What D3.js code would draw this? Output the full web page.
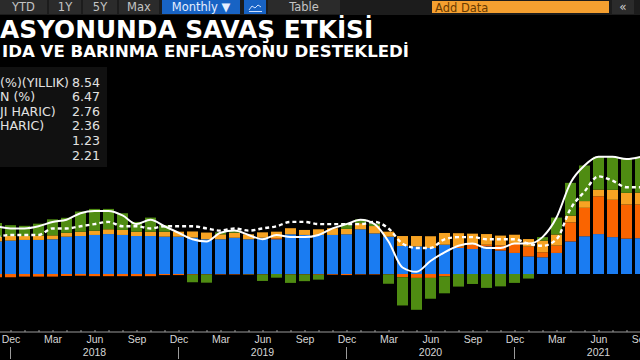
<!DOCTYPE html>
<html>
<head>
<meta charset="utf-8">
<script src="https://cdn.jsdelivr.net/npm/d3@7"></script>
<style>
html, body { margin: 0; padding: 0; background: #000; overflow: hidden; }
svg { display: block; }
</style>
</head>
<body>
<svg id="chart" width="640" height="360"></svg>
<script>
// aylar: Kas 2017 - Eyl 2021
const months = d3.utcMonth.range(new Date(Date.UTC(2017, 10, 1)), new Date(Date.UTC(2021, 9, 1)));

// katkılar (yüzde puan)
const services = [1.50,1.54,1.57,1.57,1.60,1.72,1.75,1.80,1.84,1.80,1.75,1.75,1.72,1.72,
  1.68,1.60,1.60,1.67,1.60,1.67,1.60,1.83,1.80,1.80,1.80,1.83,
  2.06,1.87,1.72,1.29,1.27,1.20,1.35,1.20,1.15,1.27,1.08,0.97,
  0.81,0.77,0.97,1.50,1.74,1.84,1.70,1.63,1.65];
const goods = [-0.15,-0.15,-0.12,-0.12,-0.12,-0.09,-0.08,-0.10,-0.10,-0.10,-0.10,-0.10,-0.05,-0.05,
  -0.03,-0.02,-0.02,-0.02,-0.02,-0.02,0.05,-0.02,-0.02,-0.03,-0.03,-0.05,
  -0.02,-0.02,-0.02,-0.15,-0.18,-0.18,-0.11,0.06,0.20,0.08,0.23,0.46,
  0.45,0.23,0.34,0.88,1.31,1.74,1.72,1.57,1.55];
const food = [0.22,0.22,0.18,0.20,0.18,0.18,0.20,0.20,0.22,0.23,0.20,0.20,0.23,0.23,
  0.28,0.31,0.23,0.23,0.23,0.25,0.30,0.28,0.23,0.26,0.31,0.25,
  0.28,0.34,0.23,0.46,0.48,0.54,0.54,0.62,0.51,0.49,0.46,0.38,
  0.35,0.54,0.51,0.31,0.31,0.31,0.46,0.54,0.55];
const energy = [0.63,0.49,0.47,0.55,0.74,0.69,0.93,1.00,0.94,0.77,0.45,0.65,0.30,0.00,
  -0.35,-0.38,0.09,0.12,-0.01,-0.30,-0.17,-0.39,-0.31,-0.23,0.00,0.27,
  0.18,0.11,-0.43,-1.30,-1.47,-0.96,-0.78,-0.58,-0.46,-0.64,-0.57,-0.41,
  -0.21,0.16,0.78,1.51,1.64,1.51,1.52,1.56,1.65];

// çizgiler: manşet ve çekirdek (yıllık %)
const headline = [2.2,2.1,2.1,2.2,2.4,2.5,2.8,2.9,2.9,2.7,2.3,2.5,2.2,1.9,
  1.6,1.5,1.9,2.0,1.8,1.6,1.8,1.7,1.7,1.8,2.1,2.3,
  2.5,2.3,1.5,0.3,0.1,0.6,1.0,1.3,1.4,1.2,1.2,1.4,
  1.4,1.7,2.6,4.2,5.0,5.4,5.4,5.3,5.4];
const core = [1.7,1.8,1.8,1.8,2.1,2.1,2.2,2.3,2.4,2.2,2.2,2.1,2.2,2.2,
  2.2,2.1,2.0,2.1,2.0,2.1,2.2,2.4,2.4,2.3,2.3,2.3,
  2.3,2.4,2.1,1.4,1.2,1.2,1.6,1.7,1.7,1.6,1.6,1.6,
  1.4,1.3,1.6,3.0,3.8,4.5,4.3,4.0,4.0];

const seriesKeys = ["services", "goods", "food", "energy"];
const seriesColors = ["#1a7cf2", "#fa6400", "#f7a323", "#4f8c12"];

const tickMonths = ["Dec", "Mar", "Jun", "Sep"];
const yearLabels = ["2018", "2019", "2020", "2021"];

const legendLabels = ["(%)(YILLIK)", "N (%)", "JI HARIC)", "HARIC)", "", ""];
const legendValues = ["8.54", "6.47", "2.76", "2.36", "1.23", "2.21"];

const toolbarButtons = [
  { label: "YTD", x: 0, w: 47 },
  { label: "1Y", x: 49, w: 32 },
  { label: "5Y", x: 83, w: 34 },
  { label: "Max", x: 119, w: 40 },
  { label: "Monthly \u25BC", x: 162, w: 78, active: true },
  { label: "", x: 244, w: 22, active: true, icon: true },
  { label: "Table", x: 268, w: 72 }
];

const svg = d3.select("#chart");
svg.append("rect").attr("width", 640).attr("height", 360).attr("fill", "#000");

// --- üst araç çubuğu
svg.append("rect").attr("x", 0).attr("y", 0).attr("width", 640).attr("height", 15).attr("fill", "#1c1c1c");
const btn = svg.selectAll("g.btn").data(toolbarButtons).enter().append("g").attr("class", "btn");
btn.append("rect")
  .attr("x", d => d.x).attr("y", 0).attr("width", d => d.w).attr("height", 14)
  .attr("fill", d => d.active ? "#1863c4" : "#2b2b2b");
btn.append("text")
  .attr("x", d => d.x + d.w / 2).attr("y", 11)
  .attr("text-anchor", "middle")
  .attr("font-family", "DejaVu Sans").attr("font-size", 11.5)
  .attr("fill", d => d.active ? "#e6eeff" : "#c4c4c4")
  .text(d => d.label);
svg.append("polyline")
  .attr("points", "249,10 252,6 255,8 258,5 261,7")
  .attr("fill", "none").attr("stroke", "#cfe0ff").attr("stroke-width", 1);
svg.append("line").attr("x1", 249).attr("x2", 262).attr("y1", 11.5).attr("y2", 11.5)
  .attr("stroke", "#cfe0ff").attr("stroke-width", 1);

svg.append("rect").attr("x", 432).attr("y", 1).attr("width", 177).attr("height", 12).attr("fill", "#f5a030");
svg.append("text").attr("x", 435).attr("y", 11.5)
  .attr("font-family", "DejaVu Sans").attr("font-size", 11.5).attr("fill", "#6a3b00")
  .text("Add Data");
svg.append("rect").attr("x", 612).attr("y", 0).attr("width", 22).attr("height", 14).attr("fill", "#2b2b2b");
svg.append("text").attr("x", 623).attr("y", 11).attr("text-anchor", "middle")
  .attr("font-family", "DejaVu Sans").attr("font-size", 12).attr("fill", "#d0d0d0")
  .text("\u00AB");

// --- başlık
svg.append("text").attr("x", 0).attr("y", 37.5)
  .attr("font-family", "DejaVu Sans").attr("font-weight", "bold").attr("font-size", 24.8)
  .attr("fill", "#fff").text("ASYONUNDA SAVAŞ ETKİSİ");
svg.append("text").attr("x", 2).attr("y", 56.5)
  .attr("font-family", "DejaVu Sans").attr("font-weight", "bold").attr("font-size", 16.6)
  .attr("fill", "#fff").text("IDA VE BARINMA ENFLASYONU DESTEKLEDİ");

// --- ölçekler
const x = d3.scalePoint().domain(months.map(d => +d)).range([-3.5, 640.5]);
const y = d3.scaleLinear().domain([0, 5]).range([274, 165.5]);
const barW = 11;

const table = months.map((m, i) => ({
  month: +m, services: services[i], goods: goods[i], food: food[i], energy: energy[i]
}));
const stacked = d3.stack().keys(seriesKeys).offset(d3.stackOffsetDiverging)(table);

svg.append("g").selectAll("g").data(stacked).enter().append("g")
  .attr("fill", (d, i) => seriesColors[i])
  .selectAll("rect").data(d => d).enter().append("rect")
  .attr("x", d => x(d.data.month) - barW / 2)
  .attr("width", barW)
  .attr("y", d => y(Math.max(d[0], d[1])))
  .attr("height", d => Math.abs(y(d[0]) - y(d[1])));

// --- çizgiler
const lineGen = vals => d3.line()
  .x((d, i) => x(+months[i]))
  .y(d => y(d))
  .curve(d3.curveMonotoneX)(vals);

svg.append("path").attr("d", lineGen(core))
  .attr("fill", "none").attr("stroke", "#fff").attr("stroke-width", 2.4)
  .attr("stroke-dasharray", "4,3");
svg.append("path").attr("d", lineGen(headline))
  .attr("fill", "none").attr("stroke", "#fff").attr("stroke-width", 2);

// --- lejant
svg.append("rect").attr("x", 0).attr("y", 67).attr("width", 107).attr("height", 100).attr("fill", "#111");
const leg = svg.selectAll("g.leg").data(legendValues).enter().append("g").attr("class", "leg")
  .attr("transform", (d, i) => `translate(0,${86.5 + i * 14.6})`);
leg.append("text").attr("x", 0)
  .attr("font-family", "DejaVu Sans").attr("font-size", 12.6).attr("fill", "#e2e2e2")
  .text((d, i) => legendLabels[i]);
leg.append("text").attr("x", 100).attr("text-anchor", "end")
  .attr("font-family", "DejaVu Sans").attr("font-size", 12.6).attr("fill", "#e2e2e2")
  .text(d => d);

// --- x ekseni
const fmtMon = d3.utcFormat("%b");
const xAxis = d3.axisBottom(x)
  .tickSizeInner(-2).tickSizeOuter(0).tickPadding(3.5)
  .tickFormat(d => {
    const m = fmtMon(new Date(d));
    return tickMonths.includes(m) ? m : "";
  });
const ax = svg.append("g").attr("transform", "translate(0,332)").call(xAxis);
ax.select(".domain").attr("stroke", "#9a9a9a").attr("d", "M0,0H640");
ax.selectAll(".tick line").attr("stroke", "#9a9a9a");
ax.selectAll(".tick text")
  .attr("fill", "#d6d6d6").attr("font-family", "Liberation Sans").attr("font-size", 10.5);

const junes = months.filter(m => fmtMon(m) === "Jun");
svg.append("g").selectAll("text").data(yearLabels).enter().append("text")
  .attr("x", (d, i) => x(+junes[i]))
  .attr("y", 355.5)
  .attr("text-anchor", "middle")
  .attr("font-family", "Liberation Sans").attr("font-size", 10.5).attr("fill", "#d6d6d6")
  .text(d => d);

const decs = months.filter(m => fmtMon(m) === "Dec");
svg.append("g").selectAll("line").data(decs).enter().append("line")
  .attr("x1", d => x(+d)).attr("x2", d => x(+d))
  .attr("y1", 347).attr("y2", 359)
  .attr("stroke", "#9a9a9a").attr("stroke-width", 1);
</script>
</body>
</html>
